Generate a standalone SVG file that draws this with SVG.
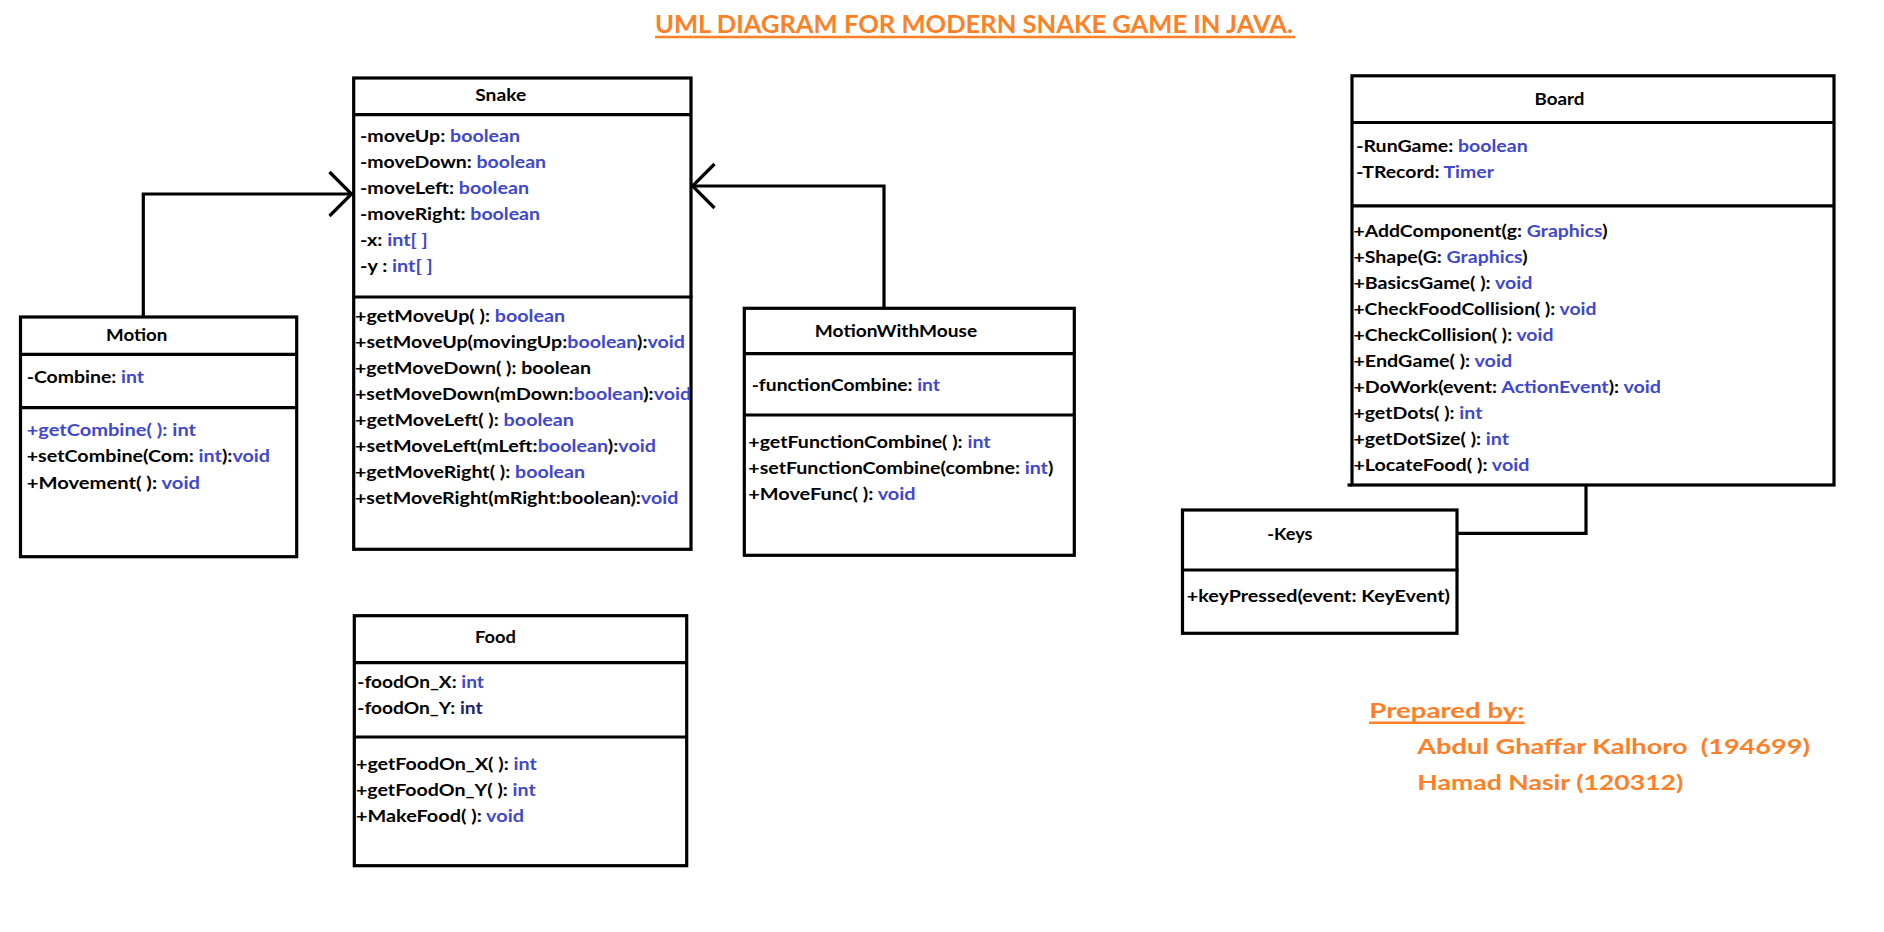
<svg xmlns="http://www.w3.org/2000/svg" width="1884" height="932" viewBox="0 0 1884 932">
<style>
.box{fill:#fff;stroke:#000;stroke-width:3.2}
.sep{stroke:#000;stroke-width:3.2}
.con{fill:none;stroke:#000;stroke-width:3.2}
.t{font-family:Lato,"Liberation Sans",sans-serif;font-weight:700;font-size:17.5px;fill:#000}
.h{text-anchor:middle}
.b{fill:#3F48CC}
.n{fill:#1c2070}
.o{font-family:Lato,"Liberation Sans",sans-serif;font-weight:700;fill:#FF7F27}
.ul{stroke:#FF7F27;stroke-width:2.4}
</style>
<defs>
<marker id="open" markerUnits="userSpaceOnUse" markerWidth="40" markerHeight="60" refX="0" refY="0" viewBox="-30 -30 40 60" orient="auto" overflow="visible">
<path d="M -22 -22 L 0 0 L -22 22" fill="none" stroke="#000" stroke-width="3.2"/>
</marker>
</defs>
<rect width="1884" height="932" fill="#fff"/>

<g id="title">
<text class="o" x="655" y="32.5" font-size="24" textLength="638" lengthAdjust="spacingAndGlyphs">UML DIAGRAM FOR MODERN SNAKE GAME IN JAVA.</text>
<line class="ul" x1="655" y1="37" x2="1295" y2="37"/>
</g>

<g id="connectors">
<path class="con" d="M143.3 317 V194 H351.5" marker-end="url(#open)"/>
<path class="con" d="M884 308 V186 H692.5" marker-end="url(#open)"/>
<path class="con" d="M1586 485 V533.3 H1457"/>
</g>

<g id="snake">
<rect class="box" x="353.7" y="78" width="337.3" height="471.3"/>
<line class="sep" x1="353.7" y1="114.7" x2="691" y2="114.7"/>
<line class="sep" x1="353.7" y1="297" x2="692.5" y2="297"/>
<text class="t h" x="500.7" y="100.7" textLength="51" lengthAdjust="spacingAndGlyphs">Snake</text>
<text class="t" x="360" y="141.7" textLength="160" lengthAdjust="spacingAndGlyphs">-moveUp: <tspan class="b">boolean</tspan></text>
<text class="t" x="360" y="167.7" textLength="186" lengthAdjust="spacingAndGlyphs">-moveDown: <tspan class="b">boolean</tspan></text>
<text class="t" x="360" y="193.7" textLength="169" lengthAdjust="spacingAndGlyphs">-moveLeft: <tspan class="b">boolean</tspan></text>
<text class="t" x="360" y="219.7" textLength="180" lengthAdjust="spacingAndGlyphs">-moveRight: <tspan class="b">boolean</tspan></text>
<text class="t" x="360" y="245.7" textLength="67.7" lengthAdjust="spacingAndGlyphs">-x: <tspan class="b">int[ ]</tspan></text>
<text class="t" x="360" y="271.7" textLength="72.7" lengthAdjust="spacingAndGlyphs">-y : <tspan class="b">int[ ]</tspan></text>
<text class="t" x="355" y="321.7" textLength="210" lengthAdjust="spacingAndGlyphs">+getMoveUp( ): <tspan class="b">boolean</tspan></text>
<text class="t" x="355" y="347.7" textLength="330" lengthAdjust="spacingAndGlyphs">+setMoveUp(movingUp:<tspan class="b">boolean</tspan>):<tspan class="b">void</tspan></text>
<text class="t" x="355" y="373.7" textLength="236" lengthAdjust="spacingAndGlyphs">+getMoveDown( ): boolean</text>
<text class="t" x="355" y="399.7" textLength="336" lengthAdjust="spacingAndGlyphs">+setMoveDown(mDown:<tspan class="b">boolean</tspan>):<tspan class="b">void</tspan></text>
<text class="t" x="355" y="425.7" textLength="219" lengthAdjust="spacingAndGlyphs">+getMoveLeft( ): <tspan class="b">boolean</tspan></text>
<text class="t" x="355" y="451.7" textLength="301" lengthAdjust="spacingAndGlyphs">+setMoveLeft(mLeft:<tspan class="b">boolean</tspan>):<tspan class="b">void</tspan></text>
<text class="t" x="355" y="477.7" textLength="230" lengthAdjust="spacingAndGlyphs">+getMoveRight( ): <tspan class="b">boolean</tspan></text>
<text class="t" x="355" y="503.7" textLength="323.3" lengthAdjust="spacingAndGlyphs">+setMoveRight(mRight:boolean):<tspan class="b">void</tspan></text>
</g>

<g id="motion">
<rect class="box" x="20.5" y="317" width="276.2" height="239.7"/>
<line class="sep" x1="20.5" y1="354.3" x2="296.7" y2="354.3"/>
<line class="sep" x1="20.5" y1="407.7" x2="296.7" y2="407.7"/>
<text class="t h" x="136.7" y="340.7" textLength="61.3" lengthAdjust="spacingAndGlyphs">Motion</text>
<text class="t" x="26.7" y="383.3" textLength="117.3" lengthAdjust="spacingAndGlyphs">-Combine: <tspan class="b">int</tspan></text>
<text class="t b" x="26.7" y="435.7" textLength="169.3" lengthAdjust="spacingAndGlyphs">+getCombine( ): int</text>
<text class="t" x="26.7" y="462.3" textLength="243.3" lengthAdjust="spacingAndGlyphs">+setCombine(Com: <tspan class="b">int</tspan>):<tspan class="b">void</tspan></text>
<text class="t" x="26.7" y="489" textLength="173.3" lengthAdjust="spacingAndGlyphs">+Movement( ): <tspan class="b">void</tspan></text>
</g>

<g id="motionWithMouse">
<rect class="box" x="744.3" y="308.3" width="330" height="247"/>
<line class="sep" x1="744.3" y1="353.7" x2="1074.3" y2="353.7"/>
<line class="sep" x1="744.3" y1="415" x2="1074.3" y2="415"/>
<text class="t h" x="896" y="337.3" textLength="162.3" lengthAdjust="spacingAndGlyphs">MotionWithMouse</text>
<text class="t" x="751.7" y="390.7" textLength="188.3" lengthAdjust="spacingAndGlyphs">-functionCombine: <tspan class="b">int</tspan></text>
<text class="t" x="748.3" y="448.3" textLength="242.3" lengthAdjust="spacingAndGlyphs">+getFunctionCombine( ): <tspan class="b">int</tspan></text>
<text class="t" x="748.3" y="474.3" textLength="305" lengthAdjust="spacingAndGlyphs">+setFunctionCombine(combne: <tspan class="b">int</tspan>)</text>
<text class="t" x="748.3" y="500" textLength="167.3" lengthAdjust="spacingAndGlyphs">+MoveFunc( ): <tspan class="b">void</tspan></text>
</g>

<g id="board">
<rect class="box" x="1352" y="75.8" width="482" height="409.2"/>
<line class="sep" x1="1352" y1="122.5" x2="1833" y2="122.5"/>
<line class="sep" x1="1352" y1="205.8" x2="1834.8" y2="205.8"/>
<line class="sep" x1="1347.5" y1="485" x2="1352" y2="485"/>
<text class="t h" x="1559.4" y="105" textLength="50" lengthAdjust="spacingAndGlyphs">Board</text>
<text class="t" x="1356.2" y="152.3" textLength="171.5" lengthAdjust="spacingAndGlyphs">-RunGame: <tspan class="b">boolean</tspan></text>
<text class="t" x="1356.2" y="178.3" textLength="137.7" lengthAdjust="spacingAndGlyphs">-TRecord: <tspan class="b">Timer</tspan></text>
<text class="t" x="1353.4" y="236.7" textLength="254.1" lengthAdjust="spacingAndGlyphs">+AddComponent(g: <tspan class="b">Graphics</tspan>)</text>
<text class="t" x="1353.4" y="262.7" textLength="174.2" lengthAdjust="spacingAndGlyphs">+Shape(G: <tspan class="b">Graphics</tspan>)</text>
<text class="t" x="1353.4" y="288.7" textLength="179" lengthAdjust="spacingAndGlyphs">+BasicsGame( ): <tspan class="b">void</tspan></text>
<text class="t" x="1353.4" y="314.7" textLength="243.1" lengthAdjust="spacingAndGlyphs">+CheckFoodCollision( ): <tspan class="b">void</tspan></text>
<text class="t" x="1353.4" y="340.7" textLength="200" lengthAdjust="spacingAndGlyphs">+CheckCollision( ): <tspan class="b">void</tspan></text>
<text class="t" x="1353.4" y="366.7" textLength="158.7" lengthAdjust="spacingAndGlyphs">+EndGame( ): <tspan class="b">void</tspan></text>
<text class="t" x="1353.4" y="392.7" textLength="307.5" lengthAdjust="spacingAndGlyphs">+DoWork(event: <tspan class="b">ActionEvent</tspan>): <tspan class="b">void</tspan></text>
<text class="t" x="1353.4" y="418.7" textLength="129.1" lengthAdjust="spacingAndGlyphs">+getDots( ): <tspan class="b">int</tspan></text>
<text class="t" x="1353.4" y="444.7" textLength="155.6" lengthAdjust="spacingAndGlyphs">+getDotSize( ): <tspan class="b">int</tspan></text>
<text class="t" x="1353.4" y="470.7" textLength="176" lengthAdjust="spacingAndGlyphs">+LocateFood( ): <tspan class="b">void</tspan></text>
</g>

<g id="keys">
<rect class="box" x="1182.5" y="510" width="274.5" height="123.3"/>
<line class="sep" x1="1182.5" y1="570" x2="1458.5" y2="570"/>
<text class="t" x="1267.3" y="540" textLength="45.3" lengthAdjust="spacingAndGlyphs">-Keys</text>
<text class="t" x="1186.7" y="602.3" textLength="263.3" lengthAdjust="spacingAndGlyphs">+keyPressed(event: KeyEvent)</text>
</g>

<g id="food">
<rect class="box" x="354.3" y="615.7" width="332.4" height="250"/>
<line class="sep" x1="354.3" y1="662.7" x2="686.7" y2="662.7"/>
<line class="sep" x1="354.3" y1="737" x2="686.7" y2="737"/>
<text class="t h" x="495.5" y="642.7" textLength="41" lengthAdjust="spacingAndGlyphs">Food</text>
<text class="t" x="357.3" y="688.3" textLength="126.7" lengthAdjust="spacingAndGlyphs">-foodOn_X: <tspan class="b">int</tspan></text>
<text class="t" x="357.3" y="714.3" textLength="125.3" lengthAdjust="spacingAndGlyphs">-foodOn_Y: <tspan class="n">int</tspan></text>
<text class="t" x="356" y="770" textLength="180.7" lengthAdjust="spacingAndGlyphs">+getFoodOn_X( ): <tspan class="b">int</tspan></text>
<text class="t" x="356" y="796" textLength="179.7" lengthAdjust="spacingAndGlyphs">+getFoodOn_Y( ): <tspan class="b">int</tspan></text>
<text class="t" x="356" y="821.7" textLength="168" lengthAdjust="spacingAndGlyphs">+MakeFood( ): <tspan class="b">void</tspan></text>
</g>

<g id="credits">
<text class="o" x="1369.3" y="717.7" font-size="21.5" textLength="155" lengthAdjust="spacingAndGlyphs">Prepared by:</text>
<line class="ul" x1="1369" y1="722.8" x2="1524.5" y2="722.8"/>
<text class="o" x="1417.3" y="754" font-size="21.5" textLength="392.7" lengthAdjust="spacingAndGlyphs" xml:space="preserve">Abdul Ghaffar Kalhoro  (194699)</text>
<text class="o" x="1417.3" y="790" font-size="21.5" textLength="266" lengthAdjust="spacingAndGlyphs">Hamad Nasir (120312)</text>
</g>
</svg>
